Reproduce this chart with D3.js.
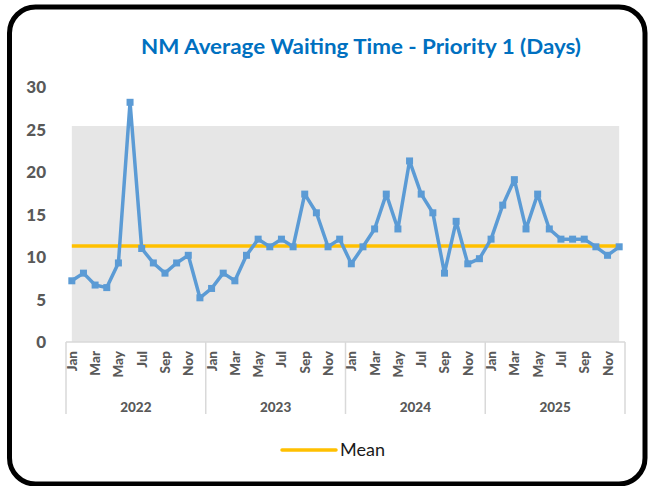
<!DOCTYPE html>
<html><head><meta charset="utf-8">
<script src="https://cdn.jsdelivr.net/npm/d3@7"></script>
<style>body{margin:0;background:#fff}svg{display:block}</style>
</head><body><svg id="c" width="648" height="486"></svg>
<script>
const years = ["2022","2023","2024","2025"];
const months = ["Jan","Feb","Mar","Apr","May","Jun","Jul","Aug","Sep","Oct","Nov","Dec"];
const values = [
  7.2, 8.1, 6.7, 6.4, 9.3, 28.2, 11.0, 9.3, 8.1, 9.3, 10.2, 5.2,
  6.3, 8.1, 7.2, 10.2, 12.1, 11.2, 12.1, 11.2, 17.4, 15.2, 11.2, 12.1,
  9.2, 11.2, 13.3, 17.4, 13.3, 21.3, 17.4, 15.2, 8.1, 14.2, 9.2, 9.8,
  12.1, 16.1, 19.1, 13.3, 17.4, 13.3, 12.1, 12.1, 12.1, 11.2, 10.2, 11.2
];
const meanValue = 11.3;
const bandValue = 25.4;
const yTicks = [0,5,10,15,20,25,30];
const title = "NM Average Waiting Time - Priority 1 (Days)";

const svg = d3.select("#c");
const cats = [];
years.forEach(y => months.forEach(m => cats.push(y + "-" + m)));
const data = cats.map((c, i) => ({c, v: values[i]}));

const x = d3.scaleBand().domain(cats).range([66, 625]);
const y = d3.scaleLinear().domain([0, 30]).range([342, 87]);
const cx = c => x(c) + x.bandwidth() / 2;
const font = "Lato, 'Open Sans', sans-serif";

// frame
svg.append("rect").attr("x", 9.5).attr("y", 7).attr("width", 635.5).attr("height", 477)
  .attr("rx", 26).attr("fill", "#fff").attr("stroke", "#000").attr("stroke-width", 5);

// title
svg.append("text").attr("x", 361).attr("y", 54).attr("text-anchor", "middle")
  .attr("font-family", font).attr("font-weight", "bold")
  .attr("font-size", 21).attr("textLength", 440).attr("lengthAdjust", "spacingAndGlyphs")
  .attr("fill", "#0070C0").text(title);

// gray band
svg.append("path")
  .datum([cats[0], cats[cats.length - 1]])
  .attr("d", d3.area().x(d => cx(d)).y0(y(0)).y1(y(bandValue)))
  .attr("fill", "#E6E6E6");

// y tick labels
svg.append("g").selectAll("text").data(yTicks).join("text")
  .attr("x", 46).attr("y", d => y(d)).attr("dy", "0.36em").attr("text-anchor", "end")
  .attr("font-family", font).attr("font-weight", "900")
  .attr("font-size", 17).attr("fill", "#595959").text(d => d);

// axis line
svg.append("line").attr("x1", 66).attr("x2", 625).attr("y1", y(0)).attr("y2", y(0))
  .attr("stroke", "#D9D9D9").attr("stroke-width", 1.5);
// year separators
const sepX = years.map(yr => x(yr + "-Jan")).concat([x(cats[cats.length-1]) + x.bandwidth()]);
svg.append("g").selectAll("line").data(sepX).join("line")
  .attr("x1", d => d).attr("x2", d => d).attr("y1", y(0)).attr("y2", 414)
  .attr("stroke", "#D9D9D9").attr("stroke-width", 1.5);

// month labels
svg.append("g").selectAll("text").data(cats.filter((c, i) => i % 2 === 0)).join("text")
  .attr("transform", d => `translate(${cx(d) + 5},351) rotate(-90)`)
  .attr("text-anchor", "end")
  .attr("font-family", font).attr("font-weight", "900")
  .attr("font-size", 13.5).attr("fill", "#595959").text(d => d.split("-")[1]);

// year labels
svg.append("g").selectAll("text").data(years).join("text")
  .attr("x", d => x(d + "-Jan") + x.bandwidth() * 6).attr("y", 412).attr("text-anchor", "middle")
  .attr("font-family", font).attr("font-weight", "900")
  .attr("font-size", 13.5).attr("fill", "#595959").text(d => d);

// mean line
svg.append("line").attr("x1", cx(cats[0])).attr("x2", cx(cats[cats.length-1]))
  .attr("y1", y(meanValue)).attr("y2", y(meanValue))
  .attr("stroke", "#FFC000").attr("stroke-width", 3.5);

// data line
svg.append("path").datum(data)
  .attr("d", d3.line().x(d => cx(d.c)).y(d => y(d.v)))
  .attr("fill", "none").attr("stroke", "#5B9BD5").attr("stroke-width", 3.5)
  .attr("stroke-linejoin", "round");
svg.append("g").selectAll("rect").data(data).join("rect")
  .attr("x", d => cx(d.c) - 3.5).attr("y", d => y(d.v) - 3.5)
  .attr("width", 7).attr("height", 7).attr("fill", "#5B9BD5");

// legend
svg.append("line").attr("x1", 282).attr("x2", 336).attr("y1", 450).attr("y2", 450)
  .attr("stroke", "#FFC000").attr("stroke-width", 3.5).attr("stroke-linecap", "round");
svg.append("text").attr("x", 340).attr("y", 456)
  .attr("font-family", font)
  .attr("font-size", 18).attr("fill", "#1a1a1a").text("Mean");
</script></body></html>
